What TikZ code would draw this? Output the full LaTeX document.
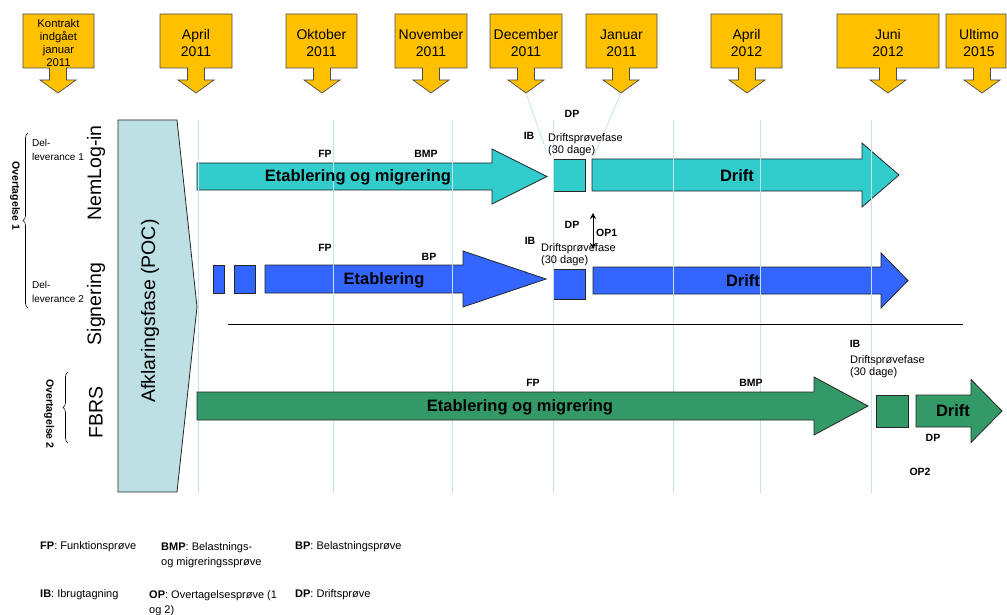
\documentclass[tikz,border=0pt]{standalone}
\usepackage{fontspec}
\setmainfont{Liberation Sans}
\usetikzlibrary{decorations.pathreplacing,arrows.meta}
\definecolor{callorange}{RGB}{255,192,0}
\definecolor{cyanfill}{RGB}{51,204,204}
\definecolor{bluefill}{RGB}{51,102,255}
\definecolor{greenfill}{RGB}{51,153,102}
\definecolor{pocfill}{RGB}{188,224,227}
\definecolor{gridline}{RGB}{196,228,233}
% #1 fill, #2 x0, #3 head start, #4 tip x, #5 centre y, #6 half shaft, #7 half head
\newcommand\blockarrow[7]{\draw[shapeline,fill=#1] (#2,#5-#6) -- (#3,#5-#6) -- (#3,#5-#7) -- (#4,#5) -- (#3,#5+#7) -- (#3,#5+#6) -- (#2,#5+#6) -- cycle;}
% #1 name, #2 x1, #3 x2, #4 arrow centre x
\newcommand\calloutbox[4]{\draw[callbox] (#2,14) -- (#3,14) -- (#3,68) -- (#4+8.5,68) -- (#4+8.5,80) -- (#4+18,80) -- (#4,93) -- (#4-18,80) -- (#4-8.5,80) -- (#4-8.5,68) -- (#2,68) -- cycle;
\coordinate (#1-tip) at (#4,93);}
\begin{document}
\begin{tikzpicture}[x=1pt,y=-1pt,
  callbox/.style={draw=black!70, fill=callorange, line width=0.7pt},
  calltext/.style={align=center, inner sep=0, font=\fontsize{14}{17}\selectfont},
  shapeline/.style={draw=black!85, line width=0.8pt},
  gridln/.style={draw=gridline, line width=0.9pt},
  tag/.style={inner sep=0, font=\fontsize{10.5}{12}\selectfont\bfseries},
  small/.style={inner sep=0, align=left, font=\fontsize{11}{12.5}\selectfont},
  legend/.style={inner sep=0, align=left, font=\fontsize{11}{15}\selectfont},
  bigtxt/.style={inner sep=0, font=\fontsize{16.5}{20}\selectfont\bfseries},
  track/.style={inner sep=0, rotate=90, font=\fontsize{19.5}{22}\selectfont},
  overt/.style={inner sep=0, rotate=-90, font=\fontsize{10.5}{12}\selectfont\bfseries},
  bracestyle/.style={decorate, decoration={brace, amplitude=5pt}, line width=0.6pt},
  tipline/.style={draw=gridline, line width=0.8pt}
]
\useasboundingbox (0,0) rectangle (1007,615);

% ---- callouts
\calloutbox{c0}{23}{94}{58}
\node[align=center, inner sep=0, font=\fontsize{11.3}{13.3}\selectfont] (t0) at (58.5,43) {Kontrakt\\indgået\\januar\\2011};
\calloutbox{c1}{160}{232}{196}
\node[calltext] (t1) at (196,43) {April\\2011};
\calloutbox{c2}{286}{357}{322}
\node[calltext] (t2) at (321.5,43) {Oktober\\2011};
\calloutbox{c3}{395}{467}{431}
\node[calltext] (t3) at (431,43) {November\\2011};
\calloutbox{c4}{490}{562}{526}
\node[calltext] (t4) at (526,43) {December\\2011};
\calloutbox{c5}{586}{657}{621}
\node[calltext] (t5) at (621.5,43) {Januar\\2011};
\calloutbox{c6}{711}{782}{747}
\node[calltext] (t6) at (746.5,43) {April\\2012};
\calloutbox{c7}{837}{939}{888}
\node[calltext] (t7) at (888,43) {Juni\\2012};
\calloutbox{c8}{946}{1006}{982}
\node[calltext] (t8) at (979,43) {Ultimo\\2015};

% ---- POC phase
\draw[shapeline, fill=pocfill] (118,120) -- (177,120) -- (197,307) -- (177,492) -- (118,492) -- cycle;
\node[track] (poc) at (150,311) {Afklaringsfase (POC)};

% ---- NemLog-in row (cyan)
\blockarrow{cyanfill}{197}{492}{547}{176.5}{13.5}{27.5}
\draw[shapeline, fill=cyanfill] (553,159) rectangle (585,191);
\blockarrow{cyanfill}{592}{862}{899}{175}{16}{32}

% ---- Signering row (blue)
\draw[shapeline, fill=bluefill] (213,265) rectangle (224,293);
\draw[shapeline, fill=bluefill] (234,265) rectangle (255,293);
\blockarrow{bluefill}{265}{463}{546}{279}{14}{28}
\draw[shapeline, fill=bluefill] (553,269) rectangle (585,299);
\blockarrow{bluefill}{593}{881}{908}{280.5}{13.5}{27.5}

% ---- grid lines
\foreach \gx in {198,333,452,553,673,760,871}{
  \draw[gridln] (\gx,120) -- (\gx,493);
}

% ---- FBRS row (green)
\blockarrow{greenfill}{197}{814}{868}{406}{14}{29}
\draw[shapeline, fill=greenfill] (876,395) rectangle (908,427);
\blockarrow{greenfill}{916}{971}{1002}{411}{16}{31.5}

% ---- big texts
\node[bigtxt] (e1) at (358,177) {Etablering og migrering};
\node[bigtxt] (d1) at (737,176) {Drift};
\node[bigtxt] (e2) at (384,280) {Etablering};
\node[bigtxt] (d2) at (743,281) {Drift};
\node[bigtxt] (e3) at (520,407) {Etablering og migrering};
\node[bigtxt] (d3) at (953,411) {Drift};

% ---- tip lines from callouts
\coordinate (dec-end) at (547,153);
\coordinate (jan-end) at (594,156);
\draw[tipline] (c4-tip) -- (dec-end);
\draw[tipline] (c5-tip) -- (jan-end);

% ---- small labels
\node[tag] (fp1) at (325,154) {FP};
\node[tag] (bmp1) at (426,154) {BMP};
\node[tag] (ib1) at (529,136) {IB};
\node[tag] (dp1) at (572,114) {DP};
\node[small, anchor=north west] (dpf1) at (548,133) {Driftsprøvefase\\(30 dage)};

\node[tag] (fp2) at (325,248) {FP};
\node[tag] (bp2) at (429,257) {BP};
\node[tag] (ib2) at (530,241) {IB};
\node[tag] (dp2) at (572,225) {DP};
\node[small, anchor=north west] (dpf2) at (541,243) {Driftsprøvefase\\(30 dage)};

\coordinate (op1a) at (593,213);
\coordinate (op1b) at (593,249);
\draw[{Stealth[length=6pt,width=6pt]}-{Stealth[length=6pt,width=6pt]}, line width=1pt] (op1a) -- (op1b);
\node[tag, anchor=west] (op1) at (596,233) {OP1};

\node[tag] (fp3) at (533,383) {FP};
\node[tag] (bmp3) at (751,383) {BMP};
\node[tag] (ib3) at (855,344) {IB};
\node[small, anchor=north west] (dpf3) at (850,355) {Driftsprøvefase\\(30 dage)};
\node[tag] (dp3) at (933,438) {DP};
\node[tag] (op2) at (920,472) {OP2};

% ---- separator
\coordinate (sepa) at (228,324);
\coordinate (sepb) at (963,324);
\draw[line width=0.8pt] (sepa) -- (sepb);

% ---- track labels
\node[track] (nl) at (96,173) {NemLog-in};
\node[track] (sg) at (96,304) {Signering};
\node[track] (fb) at (96,412) {FBRS};

% ---- delleverance
\node[small, anchor=north west, font=\fontsize{10}{14}\selectfont] (dl1) at (32,139) {Del-\\leverance 1};
\node[small, anchor=north west, font=\fontsize{10}{14}\selectfont] (dl2) at (32,281) {Del-\\leverance 2};

% ---- braces
\coordinate (b1a) at (28,308);
\coordinate (b1b) at (28,133);
\draw[bracestyle] (b1a) -- (b1b);
\node[overt] (ov1) at (15,196) {Overtagelse 1};
\coordinate (b2a) at (68,443);
\coordinate (b2b) at (68,372);
\draw[bracestyle] (b2a) -- (b2b);
\node[overt] (ov2) at (49,414) {Overtagelse 2};

% ---- legend
\node[legend, anchor=west] (lg1) at (40,547) {\textbf{FP}: Funktionsprøve};
\node[legend, anchor=north west] (lg2) at (161,542) {\textbf{BMP}: Belastnings-\\og migreringssprøve};
\node[legend, anchor=west] (lg3) at (295,547) {\textbf{BP}: Belastningsprøve};
\node[legend, anchor=west] (lg4) at (40,595) {\textbf{IB}: Ibrugtagning};
\node[legend, anchor=north west] (lg5) at (149,590) {\textbf{OP}: Overtagelsesprøve (1\\og 2)};
\node[legend, anchor=west] (lg6) at (295,595) {\textbf{DP}: Driftsprøve};
\end{tikzpicture}
\end{document}
